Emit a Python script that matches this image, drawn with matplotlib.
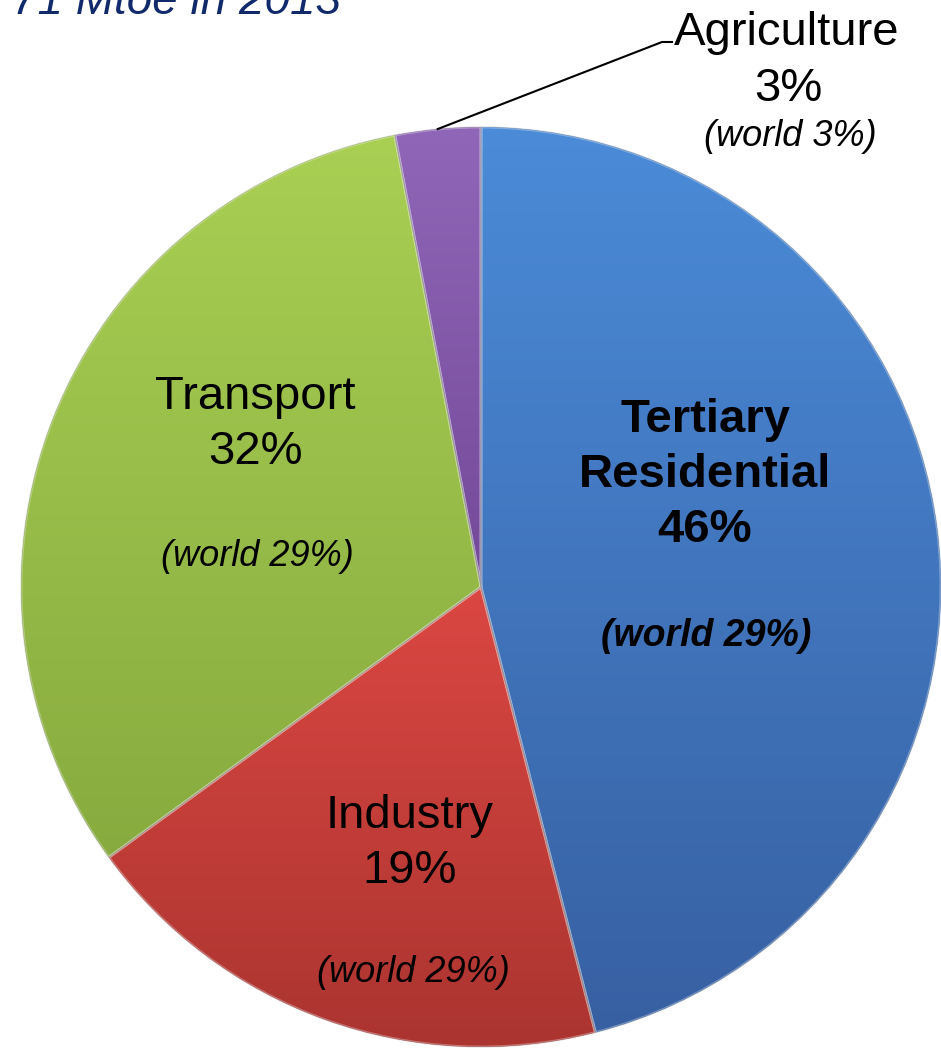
import numpy as np
import matplotlib.pyplot as plt
from matplotlib.colors import LinearSegmentedColormap

# data
sectors = ['Tertiary\nResidential', 'Industry', 'Transport', 'Agriculture']
shares = [46, 19, 32, 3]
world_shares = [29, 29, 29, 3]
title = '71 Mtoe in 2013'

# slice colours (light top -> dark bottom)
top_colors = ['#4b8bd8', '#db4742', '#a9cf53', '#9066b8']
bottom_colors = ['#3760a2', '#ab3430', '#88ab3f', '#74499a']

W, H = 941, 1048
fig = plt.figure(figsize=(W / 100, H / 100), dpi=100)
ax = fig.add_axes([0, 0, 1, 1])

def Y(py):
    # pixel row -> data y
    return H - py

cx, cy, r = 481, Y(587), 460

wedges, _ = ax.pie(shares, startangle=90, counterclock=False,
                   center=(cx, cy), radius=r, colors=top_colors,
                   wedgeprops=dict(linewidth=0))

# vertical gradient inside each slice
grad = np.linspace(0, 1, 256).reshape(-1, 1)
for w, c0, c1 in zip(wedges, bottom_colors, top_colors):
    bb = w.get_path().get_extents()
    cmap = LinearSegmentedColormap.from_list('g', [c0, c1])
    im = ax.imshow(grad, cmap=cmap, origin='lower', aspect='auto',
                   extent=(bb.x0, bb.x1, bb.y0, bb.y1), zorder=2)
    im.set_clip_path(w)

# soft bevel edges
ax.pie(shares, startangle=90, counterclock=False, center=(cx, cy), radius=r,
       wedgeprops=dict(fill=False, edgecolor=(1, 1, 1, 0.35), linewidth=2, zorder=3))
ax.pie(shares, startangle=90, counterclock=False, center=(cx, cy), radius=r,
       wedgeprops=dict(fill=False, edgecolor=(0, 0, 0, 0.12), linewidth=1, zorder=3))

font = 'Liberation Sans'

def label(x, py, s, size=34, **kw):
    ax.text(x, Y(py), s, ha='center', va='center', fontsize=size,
            family=font, color='black', zorder=5, **kw)

# Tertiary / Residential
label(705, 420, 'Tertiary', weight='bold')
label(705, 475, 'Residential', weight='bold')
label(705, 530, f'{shares[0]}%', weight='bold')
label(706, 636, f'(world {world_shares[0]}%)', size=27, weight='bold', style='italic')

# Industry
label(410, 816, sectors[1])
label(410, 871, f'{shares[1]}%')
label(413, 973, f'(world {world_shares[1]}%)', size=26, style='italic')

# Transport
label(255, 397, sectors[2])
label(255, 452, f'{shares[2]}%')
label(257, 557, f'(world {world_shares[2]}%)', size=26, style='italic')

# Agriculture, outside with leader line
label(787, 33, sectors[3])
label(788, 89, f'{shares[3]}%')
label(790, 137, f'(world {world_shares[3]}%)', size=26, style='italic')

agri = wedges[3]
mid = np.deg2rad((agri.theta1 + agri.theta2) / 2)
ax_pt = (cx + r * np.cos(mid), cy + r * np.sin(mid))
ax.plot([ax_pt[0], 662, 672], [ax_pt[1], Y(42), Y(42)], color='black', lw=1.5, zorder=4)

# title, mostly cut off at the top
ax.text(12, Y(14), title, ha='left', va='baseline', fontsize=33,
        family=font, style='italic', color='#102a6b')

ax.set_xlim(0, W)
ax.set_ylim(0, H)
ax.set_aspect('auto')
ax.axis('off')

plt.savefig('out.png', dpi=100)
